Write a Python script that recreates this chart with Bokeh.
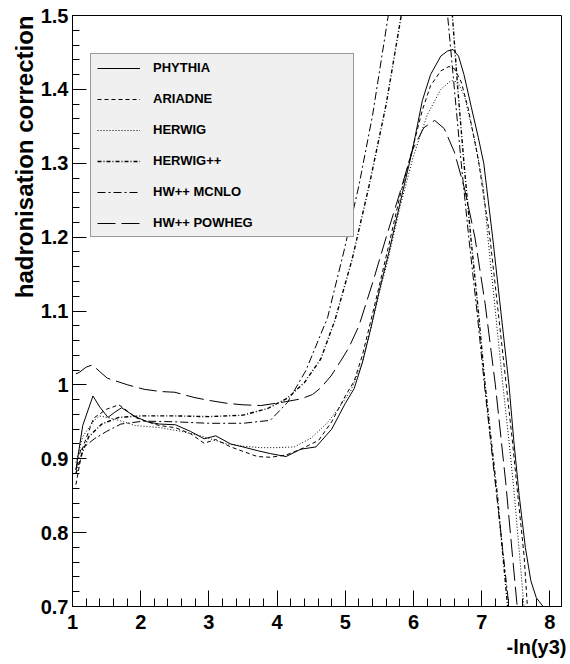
from bokeh.plotting import figure
from bokeh.models import (Range1d, SingleIntervalTicker, Legend, LegendItem, Title,
                          CustomJSTickFormatter)
from bokeh.embed import file_html
from bokeh.resources import INLINE

# ---------------- data ----------------
names = ["PHYTHIA", "ARIADNE", "HERWIG", "HERWIG++", "HW++ MCNLO", "HW++ POWHEG"]

pythia_x = [1.05, 1.15, 1.30, 1.40, 1.52, 1.62, 1.72, 1.92, 2.10, 2.27, 2.51, 2.73, 2.93, 3.10,
            3.32, 3.50, 3.71, 3.90, 4.13, 4.35, 4.57, 4.80, 5.00, 5.13, 5.25, 5.37, 5.50, 5.64,
            5.80, 5.985, 6.13, 6.25, 6.40, 6.50, 6.58, 6.66, 6.74, 6.85, 6.95, 7.03, 7.16, 7.28,
            7.40, 7.47, 7.55, 7.64, 7.72, 7.80, 7.90, 8.00, 8.08, 8.17]
pythia_y = [0.885, 0.945, 0.985, 0.970, 0.956, 0.963, 0.969, 0.957, 0.950, 0.947, 0.946, 0.937,
            0.927, 0.931, 0.920, 0.916, 0.911, 0.907, 0.903, 0.913, 0.916, 0.940, 0.975, 0.995,
            1.030, 1.075, 1.128, 1.180, 1.245, 1.318, 1.385, 1.420, 1.445, 1.452, 1.454, 1.445,
            1.420, 1.375, 1.335, 1.300, 1.200, 1.100, 1.000, 0.925, 0.850, 0.780, 0.735, 0.712,
            0.700, 0.695, 0.697, 0.700]

ariadne_x = [1.05, 1.15, 1.31, 1.50, 1.68, 1.80, 1.92, 2.10, 2.27, 2.51, 2.73, 2.93, 3.10, 3.32,
             3.50, 3.71, 3.90, 4.13, 4.35, 4.61, 4.80, 5.00, 5.13, 5.25, 5.37, 5.50, 5.64, 5.80,
             6.00, 6.13, 6.25, 6.40, 6.52, 6.60, 6.70, 6.80, 6.95, 7.12, 7.24, 7.36, 7.45, 7.53,
             7.62, 7.67, 7.72]
ariadne_y = [0.865, 0.915, 0.955, 0.967, 0.973, 0.965, 0.956, 0.950, 0.945, 0.942, 0.934, 0.921,
             0.926, 0.916, 0.910, 0.903, 0.902, 0.905, 0.913, 0.925, 0.950, 0.985, 1.005, 1.040,
             1.085, 1.135, 1.190, 1.255, 1.325, 1.372, 1.405, 1.425, 1.431, 1.428, 1.410, 1.375,
             1.305, 1.200, 1.100, 1.000, 0.924, 0.850, 0.770, 0.700, 0.650]

herwig_x = [1.05, 1.15, 1.30, 1.39, 1.56, 1.75, 1.92, 2.29, 2.60, 2.88, 3.27, 3.50, 3.76, 4.00,
            4.25, 4.50, 4.74, 4.90, 5.08, 5.25, 5.37, 5.50, 5.64, 5.80, 6.00, 6.20, 6.40, 6.55,
            6.65, 6.75, 6.90, 7.02, 7.09, 7.20, 7.31, 7.40, 7.48, 7.62, 7.68]
herwig_y = [0.895, 0.930, 0.950, 0.958, 0.955, 0.950, 0.945, 0.942, 0.937, 0.931, 0.920, 0.917,
            0.915, 0.915, 0.916, 0.928, 0.949, 0.968, 0.992, 1.030, 1.075, 1.125, 1.175, 1.240,
            1.310, 1.365, 1.400, 1.412, 1.410, 1.390, 1.330, 1.270, 1.200, 1.100, 1.000, 0.924,
            0.850, 0.700, 0.640]

herwigpp_x = [1.05, 1.15, 1.24, 1.43, 1.68, 2.00, 2.50, 3.00, 3.50, 3.86, 4.15, 4.40, 4.64, 4.85,
              5.10, 5.35, 5.60, 5.82, 6.00, 6.15, 6.30, 6.45, 6.57, 6.65, 6.74, 6.84, 6.95, 7.05,
              7.14, 7.23, 7.38, 7.45]
herwigpp_y = [0.880, 0.910, 0.930, 0.947, 0.956, 0.958, 0.958, 0.957, 0.959, 0.968, 0.982, 1.003,
              1.035, 1.088, 1.170, 1.270, 1.380, 1.500, 1.570, 1.600, 1.590, 1.550, 1.500, 1.400,
              1.300, 1.200, 1.100, 1.000, 0.924, 0.850, 0.700, 0.630]

mcnlo_x = [1.05, 1.12, 1.32, 1.50, 1.71, 2.05, 2.50, 3.00, 3.50, 3.90, 4.15, 4.42, 4.74, 4.98,
           5.20, 5.40, 5.63, 5.85, 6.05, 6.25, 6.40, 6.50, 6.60, 6.70, 6.81, 6.93, 7.04, 7.13,
           7.22, 7.40, 7.46]
mcnlo_y = [0.885, 0.912, 0.927, 0.937, 0.947, 0.951, 0.950, 0.948, 0.948, 0.952, 0.976, 1.019,
           1.091, 1.181, 1.270, 1.365, 1.500, 1.600, 1.650, 1.630, 1.560, 1.500, 1.400, 1.300,
           1.200, 1.100, 1.000, 0.924, 0.850, 0.700, 0.640]

powheg_x = [1.05, 1.10, 1.20, 1.29, 1.40, 1.51, 1.81, 2.05, 2.29, 2.50, 2.78, 3.00, 3.27, 3.50,
            3.76, 4.05, 4.35, 4.52, 4.64, 4.79, 4.93, 5.05, 5.20, 5.40, 5.60, 5.80, 5.985, 6.15,
            6.31, 6.45, 6.60, 6.75, 6.90, 7.05, 7.20, 7.35, 7.52, 7.58]
powheg_y = [1.015, 1.017, 1.024, 1.027, 1.018, 1.009, 1.000, 0.994, 0.991, 0.990, 0.983, 0.979,
            0.975, 0.973, 0.972, 0.976, 0.981, 0.987, 0.996, 1.012, 1.032, 1.050, 1.080, 1.138,
            1.200, 1.260, 1.318, 1.348, 1.358, 1.347, 1.315, 1.265, 1.200, 1.110, 1.000, 0.870,
            0.700, 0.640]

series_x = [pythia_x, ariadne_x, herwig_x, herwigpp_x, mcnlo_x, powheg_x]
series_y = [pythia_y, ariadne_y, herwig_y, herwigpp_y, mcnlo_y, powheg_y]

x_min, x_max = 1.0, 8.17
y_min, y_max = 0.7, 1.5

x_title = "-ln(y3)"
y_title = "hadronisation correction"

# ---------------- styles ----------------
dashes = ["solid", "4 3", "1 2", "4 2 1 2", "8 3 2 3", "18 6"]
widths = [1, 1, 1, 1.4, 1, 1]
FONT = "Liberation Sans"

p = figure(width=570, height=664,
           x_range=Range1d(x_min, x_max), y_range=Range1d(y_min, y_max),
           output_backend="svg", toolbar_location=None,
           min_border_left=72, min_border_right=9, min_border_top=15, min_border_bottom=58,
           background_fill_color="white", border_fill_color="white")

p.xgrid.visible = False
p.ygrid.visible = False
p.outline_line_color = "black"
p.outline_line_width = 1

p.xaxis.ticker = SingleIntervalTicker(interval=1, num_minor_ticks=5)
p.yaxis.ticker = SingleIntervalTicker(interval=0.1, num_minor_ticks=5)
p.yaxis.formatter = CustomJSTickFormatter(code="return String(Math.round(tick*10)/10);")

for ax in (p.xaxis, p.yaxis):
    ax.axis_line_color = "black"
    ax.major_tick_line_color = "black"
    ax.minor_tick_line_color = "black"
    ax.major_tick_out = 0
    ax.minor_tick_out = 0
    ax.major_label_text_font = FONT
    ax.major_label_text_font_style = "bold"
    ax.major_label_text_font_size = "20px"
    ax.major_label_text_color = "black"

p.xaxis.major_tick_in = 16
p.xaxis.minor_tick_in = 8
p.xaxis.major_label_standoff = 8
p.yaxis.major_tick_in = 14
p.yaxis.minor_tick_in = 7
p.yaxis.major_label_standoff = 4

items = []
for name, xs, ys, d, w in zip(names, series_x, series_y, dashes, widths):
    r = p.line(xs, ys, line_color="black", line_width=w, line_dash=d)
    items.append(LegendItem(label=name, renderers=[r]))

legend = Legend(items=items, location=(18, 369), padding=6, spacing=16,
                glyph_width=43, glyph_height=12, label_height=12, label_width=194,
                label_standoff=13, margin=0,
                label_text_font=FONT, label_text_font_style="bold",
                label_text_font_size="13px", label_text_color="black",
                background_fill_color="#f0f0f0", background_fill_alpha=1,
                border_line_color="#444444", border_line_width=1)
p.add_layout(legend)

# axis titles (ROOT-style: at the far end of each axis)
p.add_layout(Title(text=y_title, align="right", text_font=FONT, text_font_style="bold",
                   text_font_size="24px", text_color="black", standoff=0), "left")
p.add_layout(Title(text=x_title, align="right", text_font=FONT, text_font_style="bold",
                   text_font_size="20px", text_color="black", standoff=5, offset=-5), "below")

open("out.html", "w").write(file_html(p, INLINE))
